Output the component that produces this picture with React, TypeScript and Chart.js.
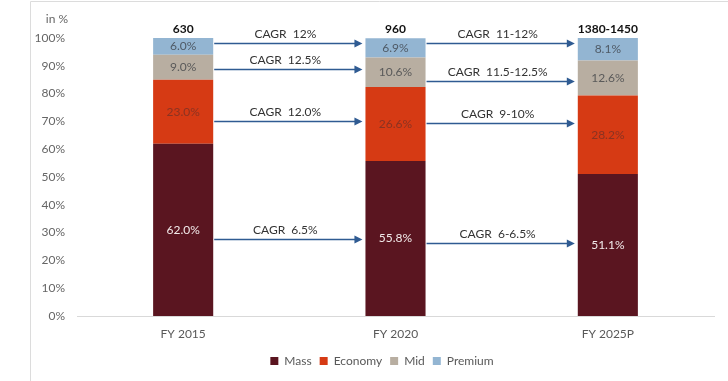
import React, { useEffect, useRef } from "react";
import { Chart, registerables } from "chart.js";

Chart.register(...registerables);

const categories = ["FY 2015", "FY 2020", "FY 2025P"];
const seriesNames = ["Mass", "Economy", "Mid", "Premium"];
const massValues = [62.0, 55.8, 51.1];
const economyValues = [23.0, 26.6, 28.2];
const midValues = [9.0, 10.6, 12.6];
const premiumValues = [6.0, 6.9, 8.1];
const totals = ["630", "960", "1380-1450"];
const yTicks = [0, 10, 20, 30, 40, 50, 60, 70, 80, 90, 100];

// CAGR annotations between FY2015->FY2020 and FY2020->FY2025P (Premium, Mid, Economy, Mass)
const cagrFirst = ["CAGR  12%", "CAGR  12.5%", "CAGR  12.0%", "CAGR  6.5%"];
const cagrSecond = ["CAGR  11-12%", "CAGR  11.5-12.5%", "CAGR  9-10%", "CAGR  6-6.5%"];
const arrowLevelsFirst = [98.2, 88.8, 70.1, 27.7];
const arrowLevelsSecond = [98.2, 84.5, 69.4, 26.3];

const COLORS = ["#5a1520", "#d63a14", "#b8aea1", "#93b5d2"];
const LABEL_COLORS = ["#f2eaea", "#8a3322", "#5a5a5a", "#4f5a66"];
const FONT = "Lato, 'Open Sans', sans-serif";

const overlayPlugin = {
  id: "overlay",
  afterLayout(chart: any) {
    const lg = chart.legend;
    if (lg) {
      const shift = 10;
      lg.left += shift;
      lg.right += shift;
    }
  },
  beforeDraw(chart: any) {
    const ctx = chart.ctx;
    ctx.save();
    ctx.strokeStyle = "#dcdcdc";
    ctx.lineWidth = 1;
    ctx.beginPath();
    ctx.moveTo(30.5, chart.height);
    ctx.lineTo(30.5, 1.5);
    ctx.lineTo(chart.width, 1.5);
    ctx.stroke();
    ctx.fillStyle = "#666666";
    ctx.font = `12px ${FONT}`;
    ctx.textAlign = "center";
    ctx.textBaseline = "middle";
    ctx.fillText("in %", 57, 19);
    ctx.restore();
  },
  afterDatasetsDraw(chart: any) {
    const ctx = chart.ctx;
    const yScale = chart.scales.y;
    ctx.save();
    ctx.textAlign = "center";
    ctx.textBaseline = "middle";
    // value labels
    chart.data.datasets.forEach((ds: any, di: number) => {
      const meta = chart.getDatasetMeta(di);
      meta.data.forEach((bar: any, i: number) => {
        const p = bar.getProps(["x", "y", "base"], true);
        ctx.fillStyle = LABEL_COLORS[di];
        ctx.font = `12px ${FONT}`;
        ctx.fillText(ds.data[i].toFixed(1) + "%", p.x, (p.y + p.base) / 2);
      });
    });
    // totals
    const topMeta = chart.getDatasetMeta(chart.data.datasets.length - 1);
    topMeta.data.forEach((bar: any, i: number) => {
      const p = bar.getProps(["x", "y"], true);
      ctx.fillStyle = "#111111";
      ctx.font = `bold 12px ${FONT}`;
      ctx.fillText(totals[i], p.x, p.y - 9);
    });
    // arrows
    const groups = [
      { labels: cagrFirst, levels: arrowLevelsFirst },
      { labels: cagrSecond, levels: arrowLevelsSecond },
    ];
    const baseMeta = chart.getDatasetMeta(0);
    groups.forEach((g, gi) => {
      const a = baseMeta.data[gi].getProps(["x", "width"], true);
      const b = baseMeta.data[gi + 1].getProps(["x", "width"], true);
      const x0 = a.x + a.width / 2 + 1;
      const x1 = b.x - b.width / 2 - 3;
      g.levels.forEach((lv, k) => {
        const yy = Math.round(yScale.getPixelForValue(lv)) + 0.5;
        ctx.strokeStyle = "#2f5b92";
        ctx.fillStyle = "#2f5b92";
        ctx.lineWidth = 1.3;
        ctx.beginPath();
        ctx.moveTo(x0, yy);
        ctx.lineTo(x1 - 6, yy);
        ctx.stroke();
        ctx.beginPath();
        ctx.moveTo(x1, yy);
        ctx.lineTo(x1 - 8, yy - 4);
        ctx.lineTo(x1 - 8, yy + 4);
        ctx.closePath();
        ctx.fill();
        ctx.fillStyle = "#333333";
        ctx.font = `12px ${FONT}`;
        ctx.fillText(g.labels[k], (x0 + x1) / 2 - 3, yy - 9);
      });
    });
    ctx.restore();
  },
};

export default function App() {
  const ref = useRef<HTMLCanvasElement | null>(null);
  useEffect(() => {
    if (!ref.current) return;
    const allSeries = [massValues, economyValues, midValues, premiumValues];
    const chart = new Chart(ref.current, {
      type: "bar",
      data: {
        labels: categories,
        datasets: allSeries.map((vals, i) => ({
          label: seriesNames[i],
          data: vals,
          backgroundColor: COLORS[i],
          borderWidth: 0,
          categoryPercentage: 1,
          barPercentage: 0.283,
        })),
      },
      options: {
        animation: false,
        responsive: false,
        maintainAspectRatio: false,
        layout: { padding: { left: 30, right: 14, top: 38, bottom: 4 } },
        plugins: {
          legend: {
            position: "bottom",
            labels: {
              boxWidth: 8,
              boxHeight: 8,
              padding: 8,
              color: "#595959",
              font: { family: FONT, size: 12 },
            },
          },
          tooltip: { enabled: false },
        },
        scales: {
          x: {
            stacked: true,
            grid: { display: false, drawTicks: false },
            border: { display: true, color: "#d9d9d9", width: 1 },
            ticks: { color: "#595959", padding: 11, font: { family: FONT, size: 12 } },
            afterFit: (s: any) => { s.height = 31; },
          },
          y: {
            stacked: true,
            min: 0,
            max: 100,
            afterBuildTicks: (s: any) => { s.ticks = yTicks.map((v) => ({ value: v })); },
            grid: { display: false, drawTicks: false },
            border: { display: false },
            ticks: {
              color: "#666666",
              padding: 12,
              font: { family: FONT, size: 12 },
              callback: (v: any) => `${v}%`,
            },
            afterFit: (s: any) => { s.width = 47; },
          },
        },
      },
      plugins: [overlayPlugin],
    });
    return () => chart.destroy();
  }, []);
  return (
    <div style={{ position: "fixed", left: 0, top: 0, width: 728, height: 381, background: "#fff" }}>
      <canvas ref={ref} width={728} height={381} />
    </div>
  );
}
